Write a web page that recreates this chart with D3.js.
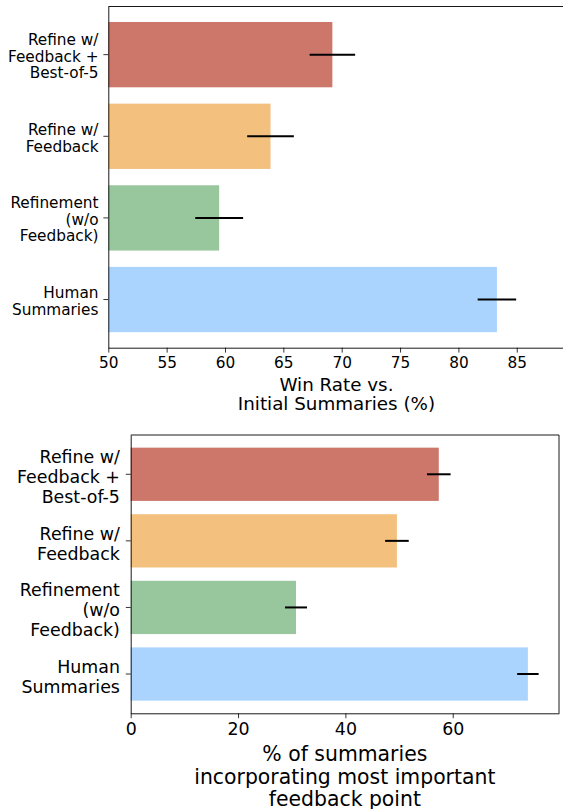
<!DOCTYPE html>
<html>
<head>
<meta charset="utf-8">
<script src="https://cdn.jsdelivr.net/npm/d3@7"></script>
<style>
  html, body { margin: 0; padding: 0; background: #fff; }
  svg { display: block; font-family: "DejaVu Sans", sans-serif; }
</style>
</head>
<body>
<svg id="chart" width="563" height="809"></svg>
<script>
// ---- data (bottom-to-top order as in the figure) ----
const categories = [
  ["Human", "Summaries"],
  ["Refinement", "(w/o", "Feedback)"],
  ["Refine w/", "Feedback"],
  ["Refine w/", "Feedback +", "Best-of-5"]
];
const barColors = ["#aad4fd", "#98c79d", "#f3c07e", "#cd776b"];

const winRate = [83.3, 59.5, 63.9, 69.2];
const winRateErr = [1.65, 2.05, 2.0, 1.95];
const winTicks = [50, 55, 60, 65, 70, 75, 80, 85];
const winLabel = ["Win Rate vs.", "Initial Summaries (%)"];

const incorp = [74.0, 30.8, 49.6, 57.4];
const incorpErr = [2.0, 2.05, 2.2, 2.2];
const incorpTicks = [0, 20, 40, 60];
const incorpLabel = ["% of summaries", "incorporating most important", "feedback point"];

const svg = d3.select("#chart");

function drawPanel(cfg) {
  const g = svg.append("g");
  const idx = categories.map((d, i) => i);
  const x = d3.scaleLinear().domain(cfg.xDomain).range([cfg.left, cfg.right]);
  const y = d3.scaleBand().domain(idx.slice().reverse())
    .range([cfg.top, cfg.bottom]).paddingInner(0.2).paddingOuter(0.19);

  // bars
  g.selectAll("rect.bar").data(idx).enter().append("rect")
    .attr("class", "bar")
    .attr("x", x(cfg.xDomain[0]))
    .attr("y", i => y(i))
    .attr("width", i => x(cfg.values[i]) - x(cfg.xDomain[0]))
    .attr("height", y.bandwidth())
    .attr("fill", i => barColors[i]);

  // error bars
  g.selectAll("line.err").data(idx).enter().append("line")
    .attr("class", "err")
    .attr("x1", i => x(cfg.values[i] - cfg.errs[i]))
    .attr("x2", i => x(cfg.values[i] + cfg.errs[i]))
    .attr("y1", i => y(i) + y.bandwidth() / 2)
    .attr("y2", i => y(i) + y.bandwidth() / 2)
    .attr("stroke", "#000").attr("stroke-width", 2);

  // x axis
  const xa = g.append("g").attr("transform", `translate(0,${cfg.bottom})`)
    .call(d3.axisBottom(x).tickValues(cfg.ticks).tickFormat(d3.format("d"))
      .tickSize(4.9).tickPadding(4.9).tickSizeOuter(0));
  xa.selectAll("text").attr("font-size", cfg.tickFont).attr("fill", "#000")
    .attr("font-family", "DejaVu Sans, sans-serif");
  xa.selectAll("line").attr("stroke", "#000").attr("stroke-width", 0.8);
  xa.select(".domain").attr("stroke", "#000").attr("stroke-width", 0.9);

  // y axis
  const ya = g.append("g").attr("transform", `translate(${cfg.left},0)`)
    .call(d3.axisLeft(y).tickSize(4.9).tickPadding(4.9).tickSizeOuter(0).tickFormat(() => ""));
  ya.selectAll("line").attr("stroke", "#000").attr("stroke-width", 0.8);
  ya.select(".domain").attr("stroke", "#000").attr("stroke-width", 0.9);
  const lh = cfg.tickLine;
  ya.selectAll(".tick text")
    .attr("font-size", cfg.tickFont).attr("fill", "#000")
    .attr("font-family", "DejaVu Sans, sans-serif")
    .attr("dy", null)
    .each(function (i) {
      const lines = categories[i];
      const t = d3.select(this);
      const y0 = -(lines.length - 1) * lh / 2 + cfg.baseK * cfg.tickFont;
      lines.forEach((ln, k) => {
        t.append("tspan").attr("x", -cfg.labelPad).attr("y", y0 + k * lh).text(ln);
      });
    });

  // top & right spines
  g.append("line").attr("x1", cfg.left).attr("x2", cfg.right)
    .attr("y1", cfg.top).attr("y2", cfg.top)
    .attr("stroke", "#000").attr("stroke-width", 0.9);
  g.append("line").attr("x1", cfg.right).attr("x2", cfg.right)
    .attr("y1", cfg.top).attr("y2", cfg.bottom)
    .attr("stroke", "#000").attr("stroke-width", 0.9);

  // x label
  const cx = (cfg.left + cfg.right) / 2;
  const lbl = g.append("text").attr("text-anchor", "middle")
    .attr("font-size", cfg.labelFont).attr("fill", "#000");
  cfg.label.forEach((ln, k) => {
    lbl.append("tspan").attr("x", cx).attr("y", cfg.labelY + k * cfg.labelLine).text(ln);
  });
}

drawPanel({
  values: winRate, errs: winRateErr, ticks: winTicks, label: winLabel,
  xDomain: [50, 89.1], left: 108.3, right: 564.6, top: 6.5, bottom: 347.7,
  tickFont: 15.3, tickLine: 16.7, baseK: 0.45, labelPad: 9.8,
  labelFont: 18.3, labelLine: 19.5, labelY: 390.7
});

drawPanel({
  values: incorp, errs: incorpErr, ticks: incorpTicks, label: incorpLabel,
  xDomain: [0, 79.8], left: 130.7, right: 559, top: 435, bottom: 713.3,
  tickFont: 17.4, tickLine: 20, baseK: 0.5, labelPad: 10.8,
  labelFont: 20.4, labelLine: 22.8, labelY: 760.7
});
</script>
</body>
</html>
